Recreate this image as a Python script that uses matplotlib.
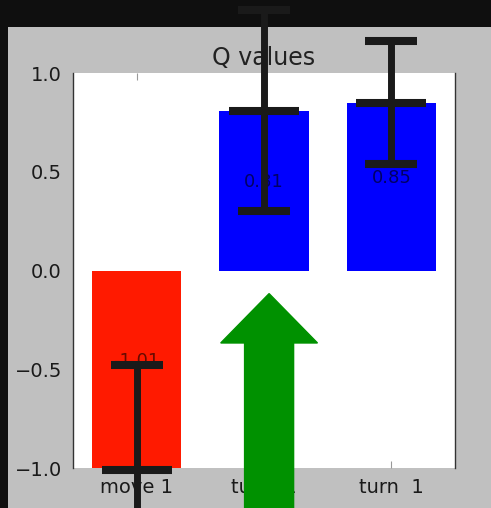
import matplotlib
matplotlib.use("Agg")
import matplotlib.pyplot as plt
from matplotlib.patches import Rectangle, FancyArrow

# Data
actions = ["move 1", "turn -1", "turn  1"]
q_values = [-1.01, 0.81, 0.85]
q_errors = [0.53, 0.51, 0.31]
bar_colors = ["#ff1a00", "#0000ff", "#0000ff"]
chosen_action = 1

W, H, DPI = 491, 508, 100
fig = plt.figure(figsize=(W / DPI, H / DPI), dpi=DPI, facecolor="#0f0f0f")

# grey window area behind the plot
fig.patches.append(Rectangle((8 / W, 0), 1 - 8 / W, 481 / H, transform=fig.transFigure,
                             facecolor="#c0c0c0", edgecolor="none", zorder=-1))

ax = fig.add_axes([73 / W, (H - 468) / H, 382 / W, 395 / H])
ax.set_facecolor("white")

x = list(range(len(actions)))
ax.bar(x, q_values, width=0.7, color=bar_colors, edgecolor="none", zorder=2)

for xi, v in zip(x, q_values):
    ax.text(xi, v / 2, f"{v:.2f}", ha="center", va="bottom", fontsize=13,
            color="black", alpha=0.6, zorder=3)

ax.errorbar(x, q_values, yerr=q_errors, fmt="_", color="#1a1a1a",
            markersize=51, markeredgewidth=5.8, elinewidth=5, capsize=19,
            capthick=5.5, zorder=7, clip_on=False)

# arrow marking the chosen action
arrow = FancyArrow(chosen_action + 0.04, -1.35, 0, 1.233, width=0.385,
                   head_width=0.76, head_length=0.25, length_includes_head=True,
                   color="#009100", zorder=6, clip_on=False)
ax.add_patch(arrow)

ax.set_xlim(-0.5, 2.5)
ax.set_ylim(-1.0, 1.0)
ax.set_xticks(x)
ax.set_xticklabels(actions)
ax.set_yticks([-1.0, -0.5, 0.0, 0.5, 1.0])
ax.tick_params(axis="both", labelsize=14, colors="#999999", labelcolor="#1a1a1a",
               direction="in", length=5, width=0.8)
ax.tick_params(axis="x", top=True, pad=7)
ax.tick_params(axis="y", left=False, right=False, pad=8)

for side in ("top", "bottom"):
    ax.spines[side].set_visible(False)
for side in ("left", "right"):
    ax.spines[side].set_color("#333333")
    ax.spines[side].set_linewidth(1.0)

ax.set_title("Q values", fontsize=17, color="#222222", pad=6)

fig.savefig("out.png", dpi=DPI, facecolor=fig.get_facecolor())
